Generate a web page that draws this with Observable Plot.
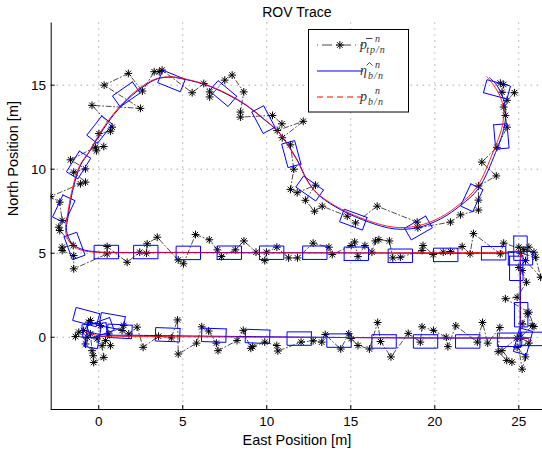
<!DOCTYPE html>
<html><head><meta charset="utf-8">
<script src="https://cdn.jsdelivr.net/npm/d3@7"></script>
<script src="https://cdn.jsdelivr.net/npm/@observablehq/plot@0.6"></script>
<style>
html,body{margin:0;padding:0;background:#fff;}
#chart{width:542px;height:456px;overflow:hidden;position:relative;}
</style></head><body><div id="chart"></div>
<script>
// ---------- data ----------
const xTicks = [0, 5, 10, 15, 20, 25];
const yTicks = [0, 5, 10, 15];
const xDomain = [-2.83, 26.41];
const yDomain = [-4.3, 18.7];

// measured positions (stars), in time order, split by leg
const measStart = [[-0.1,-0.1],[0.1,0.7],[-0.6,0.9],[-0.49,1.0],[-0.9,0.4],[-1.19,0.3],[-1.39,0.04],[-0.69,0.0],[-0.79,-0.4],[-0.49,0.2],[-0.4,-0.8],[-0.33,-1.1],[-0.3,-1.5],[0.3,-1.2],[0.2,-0.5],[0.4,-0.2],[0.7,-0.5],[0.6,0.2],[1.49,0.7],[1.39,0.4],[1.79,0.2],[2.28,0.6],[2.64,-0.6]];
const measEast = [[3.56,0.06],[4.32,-0.04],[4.69,1.03],[4.73,-1.0],[5.82,-0.35],[6.13,0.62],[6.54,0.37],[7.0,-0.35],[7.1,-0.8],[8.23,-0.2],[8.6,0.41],[9.05,-0.66],[9.16,-0.56],[9.88,-0.29],[10.6,-0.49],[10.66,-0.82],[12.04,-0.29],[12.76,-0.21],[13.27,-0.29],[13.48,0.16],[14.4,-0.7],[14.88,0.21],[15.02,-0.08],[15.43,-0.49],[16.11,-0.7],[16.6,0.88],[16.77,-0.25],[17.39,-1.17],[18.42,0.23],[19.14,-0.29],[19.24,0.62],[19.92,0.41],[20.68,0.0],[20.78,-0.56],[21.25,0.68],[22.53,-0.29],[22.84,0.88],[23.15,-0.35],[23.87,0.58],[23.77,-0.86],[24.28,-1.38],[24.59,-1.48],[24.0,-0.8],[24.9,-0.04],[25.2,-1.9],[25.4,-1.17],[24.9,-0.6],[25.6,-0.35],[25.1,0.0],[25.8,0.68],[25.5,1.4]];
const measNorth = [[25.2,0.8],[25.9,0.64],[25.6,1.49],[24.2,2.29],[24.9,2.38],[25.46,3.27],[25.2,3.97],[25.0,4.15],[25.4,4.56],[26.3,3.57],[26.0,4.76],[25.1,5.0],[25.6,5.36],[25.0,5.36],[25.9,5.06],[25.3,5.2]];
const measWest = [[24.1,5.6],[23.9,4.96],[22.3,6.17],[22.1,4.96],[21.63,5.4],[20.93,5.1],[20.5,5.06],[19.9,4.92],[19.3,5.46],[19.24,5.16],[17.95,4.76],[17.5,4.72],[17.3,5.73],[16.67,5.81],[16.46,5.73],[16.26,5.06],[15.84,5.46],[15.43,4.8],[15.23,5.67],[15.02,5.46],[13.9,4.92],[13.7,5.36],[12.76,5.6],[11.83,4.72],[11.3,4.72],[10.6,5.36],[9.98,5.06],[9.88,4.56],[9.36,5.06],[8.64,5.73],[8.13,5.2],[7.3,4.8],[7.06,5.2],[6.58,5.8],[5.76,6.11],[5.04,4.37],[4.73,4.6],[3.48,5.95],[2.88,5.56],[2.84,5.0],[2.44,5.06],[1.69,4.46],[0.5,5.4],[0.5,4.96],[-1.49,4.07],[-1.49,4.86],[-2.18,5.16],[-2.18,5.36],[-1.52,5.46]];
const measLoop = [[-2.32,6.35],[-2.38,6.55],[-2.18,6.95],[-2.32,8.04],[-2.88,8.37],[-1.09,9.13],[-0.79,9.23],[-1.49,9.82],[-0.79,10.02],[-1.68,10.56],[-0.2,11.31],[0.3,11.35],[-0.14,11.09],[0.01,12.12],[0.7,12.26],[0.8,12.5],[-0.4,13.8],[2.48,13.62],[0.32,15.0],[1.76,15.7],[2.6,14.65],[3.3,15.8],[3.6,15.8],[3.77,15.9],[5.56,14.55],[6.25,15.1],[6.6,14.6],[6.6,14.3],[7.5,15.3],[7.94,15.6],[8.63,14.6],[8.43,13.4],[8.43,13.1],[10.34,13.2],[10.9,12.7],[10.62,12.3],[12.17,12.85],[10.92,11.87],[11.41,11.45],[11.61,10.0],[11.41,8.8],[11.81,8.6],[12.9,9.05],[12.3,8.15],[12.84,7.5],[13.3,7.8],[14.79,7.2],[15.28,6.8],[16.57,7.8],[18.95,6.85],[18.99,6.51],[20.93,6.85],[21.53,7.28],[22.6,7.57],[22.6,8.16],[22.6,9.0],[23.66,9.6],[22.8,10.42],[23.7,11.3],[24.3,12.5],[24.2,13.2],[24.1,13.7],[24.3,14.1],[24.74,14.55],[24.0,14.58],[24.1,15.04],[23.9,15.12]];

// true position p_b/n (red)
const truePath = [[-0.8,0.3],[0.2,0.05],[2,0.05],[5,0.03],[10,0.0],[15,-0.02],[20,-0.03],[24.5,-0.03],[25.7,-0.02],[25.06,0.0],[25.06,0.5],[25.06,4.5],[25.06,5.06],[24,5.05],[20,5.03],[15,5.02],[10,5.02],[5,5.03],[1,5.03],[-0.1,5.05],[-1.09,5.2],[-1.68,5.58],[-1.98,6.35],[-1.88,7.14],[-1.68,8.33],[-1.39,9.52],[-1.09,10.3],[-0.6,11.0],[0.1,12.2],[0.88,13.3],[1.69,14.2],[2.67,15.0],[3.48,15.4],[4.3,15.5],[4.86,15.42],[6.25,15.08],[7.64,14.49],[8.83,13.79],[9.82,13.0],[10.62,12.3],[11.21,11.5],[11.81,10.52],[12.3,9.5],[12.7,8.9],[13.2,8.4],[14.4,7.64],[16.0,6.95],[17.56,6.55],[18.95,6.62],[20.34,7.14],[21.5,7.94],[22.5,8.93],[23.5,11.1],[24.0,12.5],[24.1,13.5],[23.9,14.3],[23.5,15.0],[23.1,15.5]];
// estimated pose eta_hat (blue)
const estPath = [[-0.7,0.35],[0.2,0.15],[2,0.12],[5,0.08],[10,0.03],[15,-0.02],[20,-0.05],[24.5,-0.05],[25.6,-0.05],[25.1,0.0],[25.1,0.5],[25.1,4.5],[25.1,5.0],[24,5.0],[20,5.0],[15,5.02],[10,5.03],[5,5.05],[1,5.05],[-0.1,5.08],[-1.05,5.25],[-1.62,5.62],[-1.92,6.35],[-1.84,7.1],[-1.64,8.3],[-1.35,9.5],[-1.05,10.3],[-0.58,11.0],[0.12,12.15],[0.9,13.25],[1.72,14.15],[2.7,14.95],[3.5,15.38],[4.3,15.48],[4.86,15.4],[6.25,15.06],[7.64,14.46],[8.85,13.75],[9.85,12.95],[10.66,12.25],[11.25,11.45],[11.85,10.48],[12.35,9.45],[12.75,8.83],[13.25,8.32],[14.45,7.56],[16.05,6.86],[17.58,6.45],[18.97,6.52],[20.36,7.05],[21.55,7.86],[22.6,8.85],[23.62,11.0],[24.12,12.45],[24.22,13.5],[24.02,14.35],[23.65,15.05],[23.25,15.45]];

// ROV body outlines: [east, north, heading deg]
const rovBoxes = [[-0.75,1.2,-15],[0.8,0.95,-10],[-0.25,0.4,5],[-0.35,0.1,80],[0.1,0.55,20],[1.25,0.35,-3],
[4.1,0.15,-2],[6.85,0.12,-2],[9.45,0.05,-2],[11.93,-0.08,0],[14.3,-0.2,0],[16.98,-0.25,0],[19.45,-0.25,0],[21.96,-0.25,0],[24.45,-0.15,0],[25.25,-0.25,75],[25.8,-0.1,0],
[25.14,1.34,90],[24.85,4.1,90],[25.1,5.3,90],[25.1,4.7,180],
[23.5,5.0,180],[20.65,4.9,180],[17.95,4.85,180],[15.33,4.97,180],[12.86,5.03,180],[10.29,5.03,180],[7.77,5.03,180],[5.33,5.02,180],[2.8,5.07,180],[0.45,5.07,180],
[-1.44,5.43,110],[-2.08,7.64,65],[-1.2,10.25,58],[0.05,12.35,52],[1.64,14.45,35],[4.33,15.25,-22],[7.4,14.5,-40],[9.8,12.95,-62],[11.46,10.9,-75],[12.55,8.85,-35],[15.15,7.0,-20],[19.03,6.5,30],[22.2,8.3,65],[23.96,11.95,95],[23.7,14.75,165]];
const ROV_LENGTH = 1.45, ROV_WIDTH = 0.8;

const legendMains = ["p", "\u03B7", "p"];
const legendSubs = ["tp/n", "b/n", "b/n"];

// ---------- build tables ----------
const stars = [...measStart, ...measEast, ...measNorth, ...measWest, ...measLoop].map(([x, y]) => ({x, y}));
const red = truePath.map(([x, y]) => ({x, y}));
const blue = estPath.map(([x, y]) => ({x, y}));
const boxPts = [];
rovBoxes.forEach(([cx, cy, hd], id) => {
  const h = hd * Math.PI / 180, ux = Math.cos(h), uy = Math.sin(h), vx = -uy, vy = ux;
  const a = ROV_LENGTH / 2, b = ROV_WIDTH / 2;
  [[1,1],[-1,1],[-1,-1],[1,-1],[1,1]].forEach(([s, t]) =>
    boxPts.push({id, x: cx + s*a*ux + t*b*vx, y: cy + s*a*uy + t*b*vy}));
});

const asterisk8 = {
  draw(ctx, size) {
    const r = Math.sqrt(size / Math.PI), d = r * Math.SQRT1_2;
    ctx.moveTo(-r, 0); ctx.lineTo(r, 0);
    ctx.moveTo(0, -r); ctx.lineTo(0, r);
    ctx.moveTo(-d, -d); ctx.lineTo(d, d);
    ctx.moveTo(-d, d); ctx.lineTo(d, -d);
  }
};

const BLUE = "#0000ff", RED = "#ff0000";
const FONT = "'Liberation Sans', Arial, Helvetica, sans-serif";

const svg = Plot.plot({
  width: 542, height: 456,
  marginLeft: 50.7, marginRight: 0, marginTop: 22.5, marginBottom: 47,
  style: {fontFamily: FONT, background: "white", color: "black"},
  x: {domain: xDomain},
  y: {domain: yDomain},
  marks: [
    Plot.gridX(xTicks, {stroke: "#808080", strokeOpacity: 1, strokeWidth: 1, strokeDasharray: "1,5"}),
    Plot.gridY(yTicks, {stroke: "#808080", strokeOpacity: 1, strokeWidth: 1, strokeDasharray: "1,5"}),
    Plot.line(stars, {x: "x", y: "y", stroke: "black", strokeWidth: 0.7, strokeDasharray: "5,2.5,1,2.5", clip: true}),
    Plot.dot(stars, {x: "x", y: "y", symbol: asterisk8, r: 3.9, stroke: "black", strokeWidth: 1, fill: "none", clip: true}),
    Plot.line(blue, {x: "x", y: "y", stroke: BLUE, strokeWidth: 1, curve: "catmull-rom", clip: true}),
    Plot.line(boxPts, {x: "x", y: "y", z: "id", stroke: BLUE, strokeWidth: 1, clip: true}),
    Plot.line(red, {x: "x", y: "y", stroke: RED, strokeWidth: 1, strokeOpacity: 0.85, curve: "catmull-rom", clip: true}),
    Plot.ruleX([xDomain[0]], {stroke: "black", strokeWidth: 1}),
    Plot.ruleY([yDomain[0]], {stroke: "black", strokeWidth: 1}),
    Plot.axisX(xTicks, {tickSize: 4, dy: -4, tickFormat: () => "", label: null}),
    Plot.axisY(yTicks, {tickSize: 4, dx: 4, tickFormat: () => "", label: null}),
    Plot.axisX(xTicks, {tickSize: 0, tickPadding: 7, fontSize: 13.5, label: null}),
    Plot.axisY(yTicks, {tickSize: 0, tickPadding: 5.2, fontSize: 13.5, label: null}),
    Plot.text(["ROV Trace"], {frameAnchor: "top", dy: -15.5, fontSize: 14, text: d => d}),
    Plot.text(["East Position [m]"], {frameAnchor: "bottom", dy: 35, fontSize: 14.5, text: d => d}),
    Plot.text(["North Position [m]"], {frameAnchor: "left", dx: -38, rotate: -90, fontSize: 14.5, text: d => d})
  ]
});

// ---------- legend ----------
const g = d3.select(svg).append("g");
g.append("rect").attr("x", 308.5).attr("y", 29.5).attr("width", 100).attr("height", 82.5)
  .attr("fill", "white").attr("stroke", "black").attr("stroke-width", 1);
const rows = [45, 71, 97];
const x1 = 317, x2 = 362.7;
g.append("line").attr("x1", x1).attr("x2", x2).attr("y1", rows[0]).attr("y2", rows[0])
  .attr("stroke", "#333").attr("stroke-width", 0.9).attr("stroke-dasharray", "1,4,10,4");
const sr = 3.9, sd = sr * Math.SQRT1_2, sx = (x1 + x2) / 2, sy = rows[0];
g.append("path").attr("d", `M${sx-sr},${sy}H${sx+sr}M${sx},${sy-sr}V${sy+sr}M${sx-sd},${sy-sd}L${sx+sd},${sy+sd}M${sx-sd},${sy+sd}L${sx+sd},${sy-sd}`)
  .attr("stroke", "black").attr("fill", "none");
g.append("line").attr("x1", x1).attr("x2", x2).attr("y1", rows[1]).attr("y2", rows[1]).attr("stroke", BLUE);
g.append("line").attr("x1", x1).attr("x2", x2).attr("y1", rows[2]).attr("y2", rows[2]).attr("stroke", RED).attr("stroke-dasharray", "6,4");
const TXT = "#333";
rows.forEach((ry, i) => {
  const base = ry + 4;
  g.append("text").attr("x", 363.5).attr("y", base).attr("font-family", "'Liberation Serif', 'DejaVu Serif', serif")
    .attr("font-style", "italic").attr("font-size", 14).attr("fill", TXT).text(legendMains[i]);
  g.append("text").attr("x", 377.5).attr("y", base - 7.5).attr("font-family", "'Liberation Serif', serif")
    .attr("font-style", "italic").attr("font-size", 10).attr("fill", TXT).text("n");
  g.append("text").attr("x", 376).attr("y", base + 4).attr("font-family", "'Liberation Serif', serif")
    .attr("font-style", "italic").attr("font-size", 10).attr("letter-spacing", 1).attr("fill", TXT).text(legendSubs[i]);
});
// bar over p (row 1) and hat over eta (row 2)
g.append("line").attr("x1", 366).attr("x2", 372.5).attr("y1", rows[0] - 6.5).attr("y2", rows[0] - 6.5)
  .attr("stroke", TXT).attr("stroke-width", 0.9);
g.append("path").attr("d", `M366.5,${rows[1] - 5.5}L369.5,${rows[1] - 8.5}L372.5,${rows[1] - 5.5}`)
  .attr("stroke", TXT).attr("stroke-width", 0.9).attr("fill", "none");

document.getElementById("chart").appendChild(svg);
</script></body></html>
